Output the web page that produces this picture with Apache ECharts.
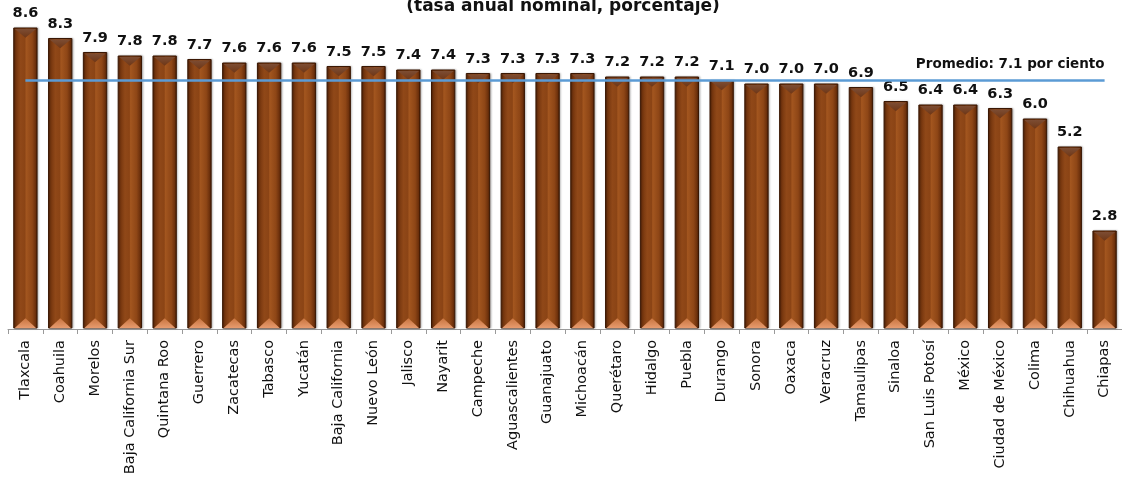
<!DOCTYPE html>
<html>
<head>
<meta charset="utf-8">
<script src="https://cdn.jsdelivr.net/npm/echarts@6/dist/echarts.min.js"></script>
<style>
  html, body { margin: 0; padding: 0; background: #ffffff; }
  #chart { width: 1122px; height: 487px; }
</style>
</head>
<body>
<div id="chart"></div>
<script>
// Entidades federativas, ordenadas de mayor a menor tasa
const estados = [
  'Tlaxcala', 'Coahuila', 'Morelos', 'Baja California Sur', 'Quintana Roo',
  'Guerrero', 'Zacatecas', 'Tabasco', 'Yucatán', 'Baja California',
  'Nuevo León', 'Jalisco', 'Nayarit', 'Campeche', 'Aguascalientes',
  'Guanajuato', 'Michoacán', 'Querétaro', 'Hidalgo', 'Puebla',
  'Durango', 'Sonora', 'Oaxaca', 'Veracruz', 'Tamaulipas',
  'Sinaloa', 'San Luis Potosí', 'México', 'Ciudad de México', 'Colima',
  'Chihuahua', 'Chiapas'
];

// Tasa anual nominal (porcentaje)
const tasas = [
  8.6, 8.3, 7.9, 7.8, 7.8,
  7.7, 7.6, 7.6, 7.6, 7.5,
  7.5, 7.4, 7.4, 7.3, 7.3,
  7.3, 7.3, 7.2, 7.2, 7.2,
  7.1, 7.0, 7.0, 7.0, 6.9,
  6.5, 6.4, 6.4, 6.3, 6.0,
  5.2, 2.8
];

// Promedio nacional
const promedio = 7.1;

const titulo = '(tasa anual nominal, porcentaje)';
const etiquetaPromedio = 'Promedio: 7.1 por ciento';

const FONT = '"DejaVu Sans", sans-serif';

const chart = echarts.init(document.getElementById('chart'), null, { renderer: 'canvas' });

// Barra con acabado biselado: cuerpo con degradado, punta superior y base clara
function barraBiselada(params, api) {
  const idx = api.value(0);
  const val = api.value(1);
  const top = api.coord([idx, val]);
  const base = api.coord([idx, 0]);
  const w = api.size([1, 0])[0] * 0.67;
  const x0 = top[0] - w / 2;
  const x1 = top[0] + w / 2;
  const y0 = top[1];
  const y1 = base[1] - 1;
  const h = y1 - y0;
  const bev = Math.min(w * 0.42, h / 2);

  return {
    type: 'group',
    children: [
      {
        type: 'rect',
        shape: { x: x0, y: y0, width: w, height: h },
        style: {
          fill: new echarts.graphic.LinearGradient(0, 0, 1, 0, [
            { offset: 0, color: '#4f2107' },
            { offset: 0.1, color: '#74350e' },
            { offset: 0.3, color: '#904818' },
            { offset: 0.48, color: '#8b4415' },
            { offset: 0.53, color: '#a3561f' },
            { offset: 0.78, color: '#8e4616' },
            { offset: 0.92, color: '#6c300c' },
            { offset: 1, color: '#421b05' }
          ]),
          stroke: '#3a1703',
          lineWidth: 1,
          shadowColor: 'rgba(0,0,0,0.25)',
          shadowBlur: 2,
          shadowOffsetX: 1,
          shadowOffsetY: 0
        }
      },
      {
        type: 'polygon',
        shape: { points: [[x0 + 1, y0 + 1], [x1 - 1, y0 + 1], [top[0], y0 + bev]] },
        style: {
          fill: new echarts.graphic.LinearGradient(0, 0, 0, 1, [
            { offset: 0, color: '#7d4d33' },
            { offset: 1, color: '#6e3616' }
          ])
        }
      },
      {
        type: 'polygon',
        shape: { points: [[x0 + 1, y1], [x1 - 1, y1], [top[0], y1 - bev]] },
        style: {
          fill: new echarts.graphic.LinearGradient(0, 1, 0, 0, [
            { offset: 0, color: '#e79b6e' },
            { offset: 1, color: '#c8743f' }
          ])
        }
      }
    ]
  };
}

const option = {
  backgroundColor: '#ffffff',
  animation: false,
  title: {
    text: titulo,
    left: 558,
    textAlign: 'center',
    top: -7,
    textStyle: { fontFamily: FONT, fontSize: 17, fontWeight: 'bold', color: '#111111' }
  },
  grid: { left: 8, right: -4, top: 28, bottom: 158, containLabel: false },
  xAxis: {
    type: 'category',
    data: estados,
    axisLine: { show: true, lineStyle: { color: '#9a9a9a', width: 1 } },
    axisTick: { show: true, alignWithLabel: false, length: 5, lineStyle: { color: '#9a9a9a' } },
    axisLabel: {
      interval: 0,
      rotate: 90,
      margin: 11,
      fontFamily: FONT,
      fontSize: 14.5,
      color: '#111111'
    }
  },
  yAxis: {
    type: 'value',
    min: 0,
    max: 8.6,
    show: false,
    splitLine: { show: false }
  },
  series: [
    {
      type: 'custom',
      renderItem: barraBiselada,
      data: tasas.map((v, i) => [i, v]),
      encode: { x: 0, y: 1 },
      z: 2
    },
    {
      // etiquetas de valor sobre cada barra
      type: 'bar',
      data: tasas,
      barWidth: '67%',
      itemStyle: { color: 'rgba(0,0,0,0)' },
      silent: true,
      label: {
        show: true,
        position: 'top',
        distance: 7,
        formatter: p => p.value.toFixed(1),
        fontFamily: FONT,
        fontSize: 14.5,
        fontWeight: 'bold',
        color: '#111111'
      },
      barGap: '-100%',
      z: 3,
      markLine: {
        silent: true,
        symbol: ['none', 'none'],
        lineStyle: { color: '#5b9bd5', width: 2.5, type: 'solid' },
        label: {
          show: true,
          position: 'insideEndTop',
          distance: [0, 9],
          formatter: etiquetaPromedio,
          fontFamily: FONT,
          fontSize: 13.5,
          fontWeight: 'bold',
          color: '#111111'
        },
        data: [[
          { coord: [estados[0], promedio] },
          { coord: [estados[estados.length - 1], promedio] }
        ]]
      }
    }
  ]
};

chart.setOption(option);
</script>
</body>
</html>
